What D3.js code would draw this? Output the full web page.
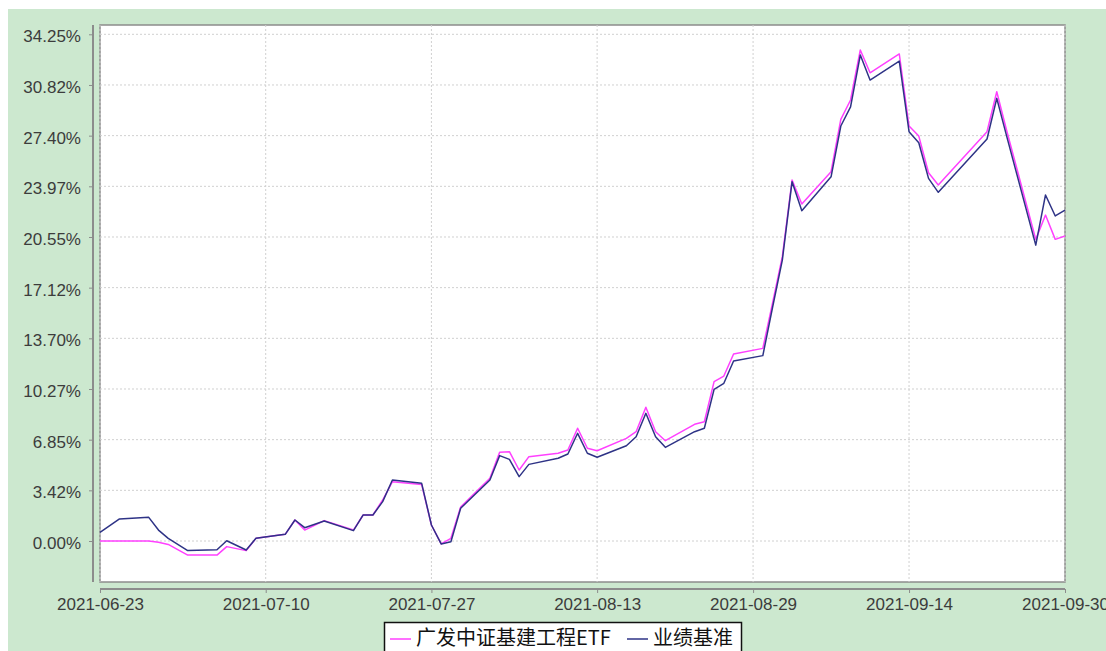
<!DOCTYPE html>
<html>
<head>
  <meta charset="utf-8">
  <title>广发中证基建工程ETF</title>
  <style type="text/css">
    body {margin: 0px; background: white;}
    .tick-label {font-family: "Liberation Sans", Arial, sans-serif; font-size: 17px; fill: #3c3c3c;}
    .legend-text {font-family: "Noto Sans CJK SC", sans-serif; font-size: 20px; fill: #111;}
  </style>
</head>
<body>
  <svg id="svg" width="1106" height="651"></svg>
  <script src="https://d3js.org/d3.v7.min.js" charset="utf-8"></script>
  <script>
    // trading days
    var dates = ["2021-06-23","2021-06-25","2021-06-28","2021-06-29","2021-06-30","2021-07-02",
      "2021-07-05","2021-07-06","2021-07-08","2021-07-09","2021-07-12","2021-07-13","2021-07-14",
      "2021-07-16","2021-07-19","2021-07-20","2021-07-21","2021-07-22","2021-07-23","2021-07-26",
      "2021-07-27","2021-07-28","2021-07-29","2021-07-30","2021-08-02","2021-08-03","2021-08-04",
      "2021-08-05","2021-08-06","2021-08-09","2021-08-10","2021-08-11","2021-08-12","2021-08-13",
      "2021-08-16","2021-08-17","2021-08-18","2021-08-19","2021-08-20","2021-08-23","2021-08-24",
      "2021-08-25","2021-08-26","2021-08-27","2021-08-30","2021-08-31","2021-09-01","2021-09-02",
      "2021-09-03","2021-09-06","2021-09-07","2021-09-08","2021-09-09","2021-09-10","2021-09-13",
      "2021-09-14","2021-09-15","2021-09-16","2021-09-17","2021-09-22","2021-09-23","2021-09-24",
      "2021-09-27","2021-09-28","2021-09-29","2021-09-30"];

    var fund = [0.00, 0.00, 0.00, -0.08, -0.23, -0.95,
      -0.95, -0.38, -0.65, 0.18, 0.45, 1.42, 0.74,
      1.38, 0.74, 1.76, 1.76, 2.77, 4.01, 3.82,
      1.08, -0.20, 0.18, 2.30, 4.24, 6.00, 6.04,
      4.80, 5.70, 5.93, 6.15, 7.62, 6.27, 6.10,
      6.94, 7.39, 9.04, 7.39, 6.78, 7.89, 8.06,
      10.77, 11.15, 12.64, 13.02, 16.10, 19.22, 24.40,
      22.78, 24.96, 28.50, 29.81, 33.19, 31.65, 32.92,
      28.05, 27.37, 24.89, 24.06, 27.67, 30.37, 27.78,
      20.39, 22.03, 20.39, 20.62];

    var bench = [0.59, 1.49, 1.60, 0.74, 0.18, -0.65,
      -0.59, 0.02, -0.61, 0.18, 0.45, 1.42, 0.90,
      1.35, 0.70, 1.76, 1.76, 2.66, 4.12, 3.90,
      1.08, -0.20, -0.05, 2.21, 4.12, 5.77, 5.52,
      4.35, 5.18, 5.59, 5.88, 7.28, 5.93, 5.66,
      6.44, 7.05, 8.63, 7.05, 6.33, 7.39, 7.62,
      10.25, 10.66, 12.17, 12.53, 15.80, 18.99, 24.29,
      22.33, 24.62, 28.05, 29.35, 32.85, 31.16, 32.44,
      27.67, 26.92, 24.51, 23.57, 27.17, 29.92, 27.40,
      20.00, 23.39, 21.97, 22.37];

    var yTicks = [0, 3.425, 6.85, 10.275, 13.70, 17.125, 20.55, 23.975, 27.40, 30.825, 34.25];
    var yLabels = ["0.00%","3.42%","6.85%","10.27%","13.70%","17.12%","20.55%","23.97%","27.40%","30.82%","34.25%"];
    var xTicks = ["2021-06-23","2021-07-10","2021-07-27","2021-08-13","2021-08-29","2021-09-14","2021-09-30"];

    var seriesNames = ["广发中证基建工程ETF", "业绩基准"];
    var seriesColors = ["#ff40ff", "#2e3386"];

    var svg = d3.select("#svg");
    var parse = d3.timeParse("%Y-%m-%d");

    var plot = {left: 100, top: 25, right: 1065, bottom: 582};

    var x = d3.scaleTime()
              .domain([parse("2021-06-23"), parse("2021-09-30")])
              .range([plot.left, plot.right]);
    var y = d3.scaleLinear()
              .domain([-2.771, 34.879])
              .range([plot.bottom, plot.top]);

    // green background
    svg.append("rect").attr("x", 8).attr("y", 9).attr("width", 1098).attr("height", 642)
       .attr("fill", "#cce8cf");

    // white plot area
    svg.append("rect").attr("x", plot.left).attr("y", plot.top)
       .attr("width", plot.right - plot.left).attr("height", plot.bottom - plot.top)
       .attr("fill", "white").attr("stroke", "#8c8c8c").attr("stroke-width", 1.5);

    // grid
    svg.append("g").selectAll("line").data(yTicks).enter().append("line")
       .attr("x1", plot.left).attr("x2", plot.right)
       .attr("y1", function(d){return y(d);}).attr("y2", function(d){return y(d);})
       .attr("stroke", "#d0d0d0").attr("stroke-dasharray", "2,2");
    svg.append("g").selectAll("line").data(xTicks).enter().append("line")
       .attr("x1", function(d){return x(parse(d));}).attr("x2", function(d){return x(parse(d));})
       .attr("y1", plot.top).attr("y2", plot.bottom)
       .attr("stroke", "#d0d0d0").attr("stroke-dasharray", "2,2");

    // y axis
    var yAxis = d3.axisLeft(y).tickValues(yTicks).tickSize(4).tickPadding(8)
                  .tickFormat(function(d, i){return yLabels[i];});
    var gy = svg.append("g").attr("transform", "translate(93,0)").call(yAxis);
    gy.select(".domain").attr("d", "M0," + plot.top + "V" + plot.bottom)
      .attr("stroke", "#8c8c8c").attr("stroke-width", 2);
    gy.selectAll(".tick line").attr("stroke", "#8c8c8c");
    gy.selectAll(".tick text").attr("class", "tick-label").attr("dy", "0.45em");

    // x axis
    var xAxis = d3.axisBottom(x).tickValues(xTicks.map(parse)).tickSize(4).tickPadding(5)
                  .tickFormat(d3.timeFormat("%Y-%m-%d"));
    var gx = svg.append("g").attr("transform", "translate(0,589)").call(xAxis);
    gx.select(".domain").attr("d", "M" + plot.left + ",0H" + plot.right)
      .attr("stroke", "#8c8c8c").attr("stroke-width", 2);
    gx.selectAll(".tick line").attr("stroke", "#8c8c8c");
    gx.selectAll(".tick text").attr("class", "tick-label");

    // lines
    var line = d3.line()
                 .x(function(d){return x(parse(d.date));})
                 .y(function(d){return y(d.value);});
    [fund, bench].forEach(function(values, k){
      var pts = dates.map(function(d, i){return {date: d, value: values[i]};});
      svg.append("path").datum(pts)
         .attr("d", line)
         .attr("fill", "none")
         .attr("stroke", seriesColors[k])
         .attr("stroke-width", 1.5)
         .attr("stroke-linejoin", "round");
    });

    // legend
    var legend = svg.append("g");
    legend.append("rect").attr("x", 384.5).attr("y", 622.5).attr("width", 357).attr("height", 40)
          .attr("fill", "white").attr("stroke", "#111").attr("stroke-width", 1.5);
    var legendX = [390, 627];
    seriesNames.forEach(function(name, k){
      legend.append("line").attr("x1", legendX[k]).attr("x2", legendX[k] + 21)
            .attr("y1", 639).attr("y2", 639)
            .attr("stroke", seriesColors[k]).attr("stroke-width", 1.5);
      legend.append("text").attr("class", "legend-text")
            .attr("x", legendX[k] + 26).attr("y", 645).text(name);
    });
  </script>
</body>
</html>
